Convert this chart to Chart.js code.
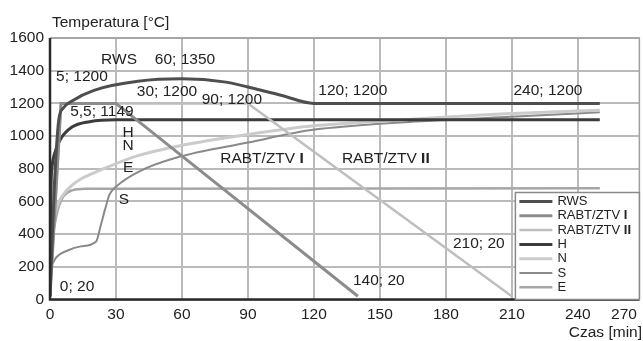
<!DOCTYPE html>
<html>
<head>
<meta charset="utf-8">
<script src="https://cdn.jsdelivr.net/npm/chart.js@4"></script>
<style>
  html, body { margin: 0; padding: 0; background: #fff; }
</style>
</head>
<body>
<canvas id="chart" width="643" height="341"></canvas>
<script>
// tick labels
const xTickLabels = [0, 30, 60, 90, 120, 150, 180, 210, 240, 270];
const yTickLabels = [0, 200, 400, 600, 800, 1000, 1200, 1400, 1600];

// series (time in min, temperature in °C)
const rwsTime = [0, 2, 4, 6, 10, 20, 40, 60, 80, 90, 105, 120, 250];
const rwsTemp = [20, 700, 1100, 1170, 1215, 1280, 1335, 1350, 1330, 1300, 1250, 1200, 1200];

const rabt1Time = [0, 5, 30, 140];
const rabt1Temp = [20, 1200, 1200, 20];

const rabt2Time = [0, 5, 90, 210];
const rabt2Temp = [20, 1200, 1200, 20];

const hTime = [0, 0.5, 1, 2, 4.5, 10, 18, 30, 250];
const hTemp = [20, 700, 820, 890, 975, 1055, 1088, 1100, 1100];

const nTime = [0, 0.5, 1, 3, 6, 12, 20, 27, 40, 58, 90, 118, 150, 205, 250];
const nTemp = [20, 300, 400, 560, 640, 720, 775, 815, 880, 938, 1010, 1060, 1090, 1135, 1158];

const sTime = [0, 3, 8, 14, 21, 23, 25, 27, 30, 40, 58, 90, 118, 150, 205, 250];
const sTemp = [190, 260, 300, 325, 355, 450, 550, 640, 690, 780, 870, 960, 1035, 1075, 1115, 1145];

const eTime = [0, 1, 2, 4, 6, 10, 16, 250];
const eTemp = [20, 360, 450, 570, 630, 668, 678, 680];

// text written on the plot, in data units
const notes = [
  { text: "RWS", x: 31.4, y: 1466 },
  { text: "60; 1350", x: 61.4, y: 1466 },
  { text: "5; 1200", x: 14.5, y: 1362 },
  { text: "30; 1200", x: 53.2, y: 1270 },
  { text: "90; 1200", x: 82.7, y: 1221 },
  { text: "5,5; 1149", x: 23.6, y: 1148 },
  { text: "H", x: 35.5, y: 1022 },
  { text: "N", x: 35.5, y: 942 },
  { text: "E", x: 35.5, y: 808 },
  { text: "S", x: 33.6, y: 609 },
  { text: "120; 1200", x: 137.7, y: 1276 },
  { text: "240; 1200", x: 226.4, y: 1276 },
  { text: "RABT/ZTV I", x: 96.4, y: 860 },
  { text: "RABT/ZTV II", x: 152.7, y: 860 },
  { text: "0; 20", x: 12.3, y: 76 },
  { text: "140; 20", x: 149.5, y: 113 },
  { text: "210; 20", x: 195, y: 340 },
];

const FONT = '"Liberation Sans", Arial, sans-serif';
const TEXT_SIZE = 15.5;

function zip(xs, ys) {
  return xs.map((x, i) => ({ x: x, y: ys[i] }));
}

function series(label, xs, ys, color, width, curved) {
  return {
    label: label,
    data: zip(xs, ys),
    borderColor: color,
    backgroundColor: color,
    borderWidth: width,
    pointRadius: 0,
    tension: curved ? 0.4 : 0,
    cubicInterpolationMode: curved ? "monotone" : "default",
  };
}

// draws text, with a trailing roman numeral in bold
function drawText(ctx, text, x, y, size, align) {
  const m = text.match(/^(.* )(I+)$/);
  const parts = m ? [[m[1], "normal"], [m[2], "bold"]] : [[text, "normal"]];
  let total = 0;
  parts.forEach(p => {
    ctx.font = p[1] + " " + size + "px " + FONT;
    total += ctx.measureText(p[0]).width;
  });
  let cx = align === "center" ? x - total / 2 : align === "right" ? x - total : x;
  ctx.textAlign = "left";
  ctx.textBaseline = "middle";
  parts.forEach(p => {
    ctx.font = p[1] + " " + size + "px " + FONT;
    ctx.fillText(p[0], cx, y);
    cx += ctx.measureText(p[0]).width;
  });
}

const decorations = {
  id: "decorations",
  afterDraw(chart) {
    const { ctx, chartArea: a, scales } = chart;
    ctx.save();

    // frame: light top/right, dark axes
    ctx.strokeStyle = "#a0a0a0";
    ctx.lineWidth = 1.5;
    ctx.beginPath();
    ctx.moveTo(a.left, a.top);
    ctx.lineTo(a.right, a.top);
    ctx.lineTo(a.right, a.bottom);
    ctx.stroke();
    ctx.strokeStyle = "#2a2a2a";
    ctx.lineWidth = 2.5;
    ctx.beginPath();
    ctx.moveTo(a.left, a.top);
    ctx.lineTo(a.left, a.bottom);
    ctx.lineTo(a.right, a.bottom);
    ctx.stroke();

    ctx.fillStyle = "#222";
    notes.forEach(n => {
      drawText(ctx, n.text, scales.x.getPixelForValue(n.x), scales.y.getPixelForValue(n.y), TEXT_SIZE, "center");
    });

    // axis titles
    drawText(ctx, "Temperatura [°C]", 52, 23, TEXT_SIZE, "left");
    drawText(ctx, "Czas [min]", 642, 333, TEXT_SIZE, "right");

    // legend box
    const bw = 124, bh = 107;
    const bx = a.right - bw, by = a.bottom - bh;
    ctx.fillStyle = "#fff";
    ctx.fillRect(bx, by, bw, bh);
    ctx.strokeStyle = "#8a8a8a";
    ctx.lineWidth = 1.5;
    ctx.strokeRect(bx, by, bw, bh);
    chart.data.datasets.forEach((ds, i) => {
      const ly = by + 9 + i * 14.3;
      ctx.strokeStyle = ds.borderColor;
      ctx.lineWidth = ds.borderWidth;
      ctx.beginPath();
      ctx.moveTo(bx + 4, ly);
      ctx.lineTo(bx + 37, ly);
      ctx.stroke();
      ctx.fillStyle = "#222";
      drawText(ctx, ds.label, bx + 42, ly, 13, "left");
    });
    ctx.restore();
  },
};

new Chart(document.getElementById("chart"), {
  type: "line",
  data: {
    datasets: [
      series("RWS", rwsTime, rwsTemp, "#4e4e4e", 3, true),
      series("RABT/ZTV I", rabt1Time, rabt1Temp, "#8c8c8c", 3, false),
      series("RABT/ZTV II", rabt2Time, rabt2Temp, "#bebebe", 2.5, false),
      series("H", hTime, hTemp, "#3c3c3c", 3, true),
      series("N", nTime, nTemp, "#cbcbcb", 3, true),
      series("S", sTime, sTemp, "#8a8a8a", 2, true),
      series("E", eTime, eTemp, "#a6a6a6", 2.5, true),
    ],
  },
  options: {
    responsive: false,
    animation: false,
    layout: { padding: { top: 38, right: 3, left: 0, bottom: 0 } },
    plugins: { legend: { display: false }, tooltip: { enabled: false } },
    scales: {
      x: {
        type: "linear",
        min: 0,
        max: 268,
        afterBuildTicks(scale) {
          // last label sits just inside the right edge of the plot
          scale.ticks = xTickLabels.map(v => ({ value: Math.min(v, 261) }));
        },
        afterFit(scale) { scale.height = 41.5; },
        ticks: {
          padding: 6,
          color: "#222",
          font: { family: FONT, size: TEXT_SIZE },
          maxRotation: 0,
          autoSkip: false,
          callback: (v, i) => String(xTickLabels[i]),
        },
        grid: {
          color: ctx => (ctx.tick && ctx.tick.value > 250 ? "rgba(0,0,0,0)" : "#bababa"),
          lineWidth: 2,
          drawTicks: false,
        },
        border: { display: false },
      },
      y: {
        min: 0,
        max: 1600,
        afterBuildTicks(scale) {
          scale.ticks = yTickLabels.map(v => ({ value: v }));
        },
        afterFit(scale) { scale.width = 50; },
        ticks: {
          padding: 6,
          color: "#222",
          font: { family: FONT, size: TEXT_SIZE },
          callback: (v, i) => String(yTickLabels[i]),
        },
        grid: { color: "#bababa", lineWidth: 2, drawTicks: false },
        border: { display: false },
      },
    },
  },
  plugins: [decorations],
});
</script>
</body>
</html>
